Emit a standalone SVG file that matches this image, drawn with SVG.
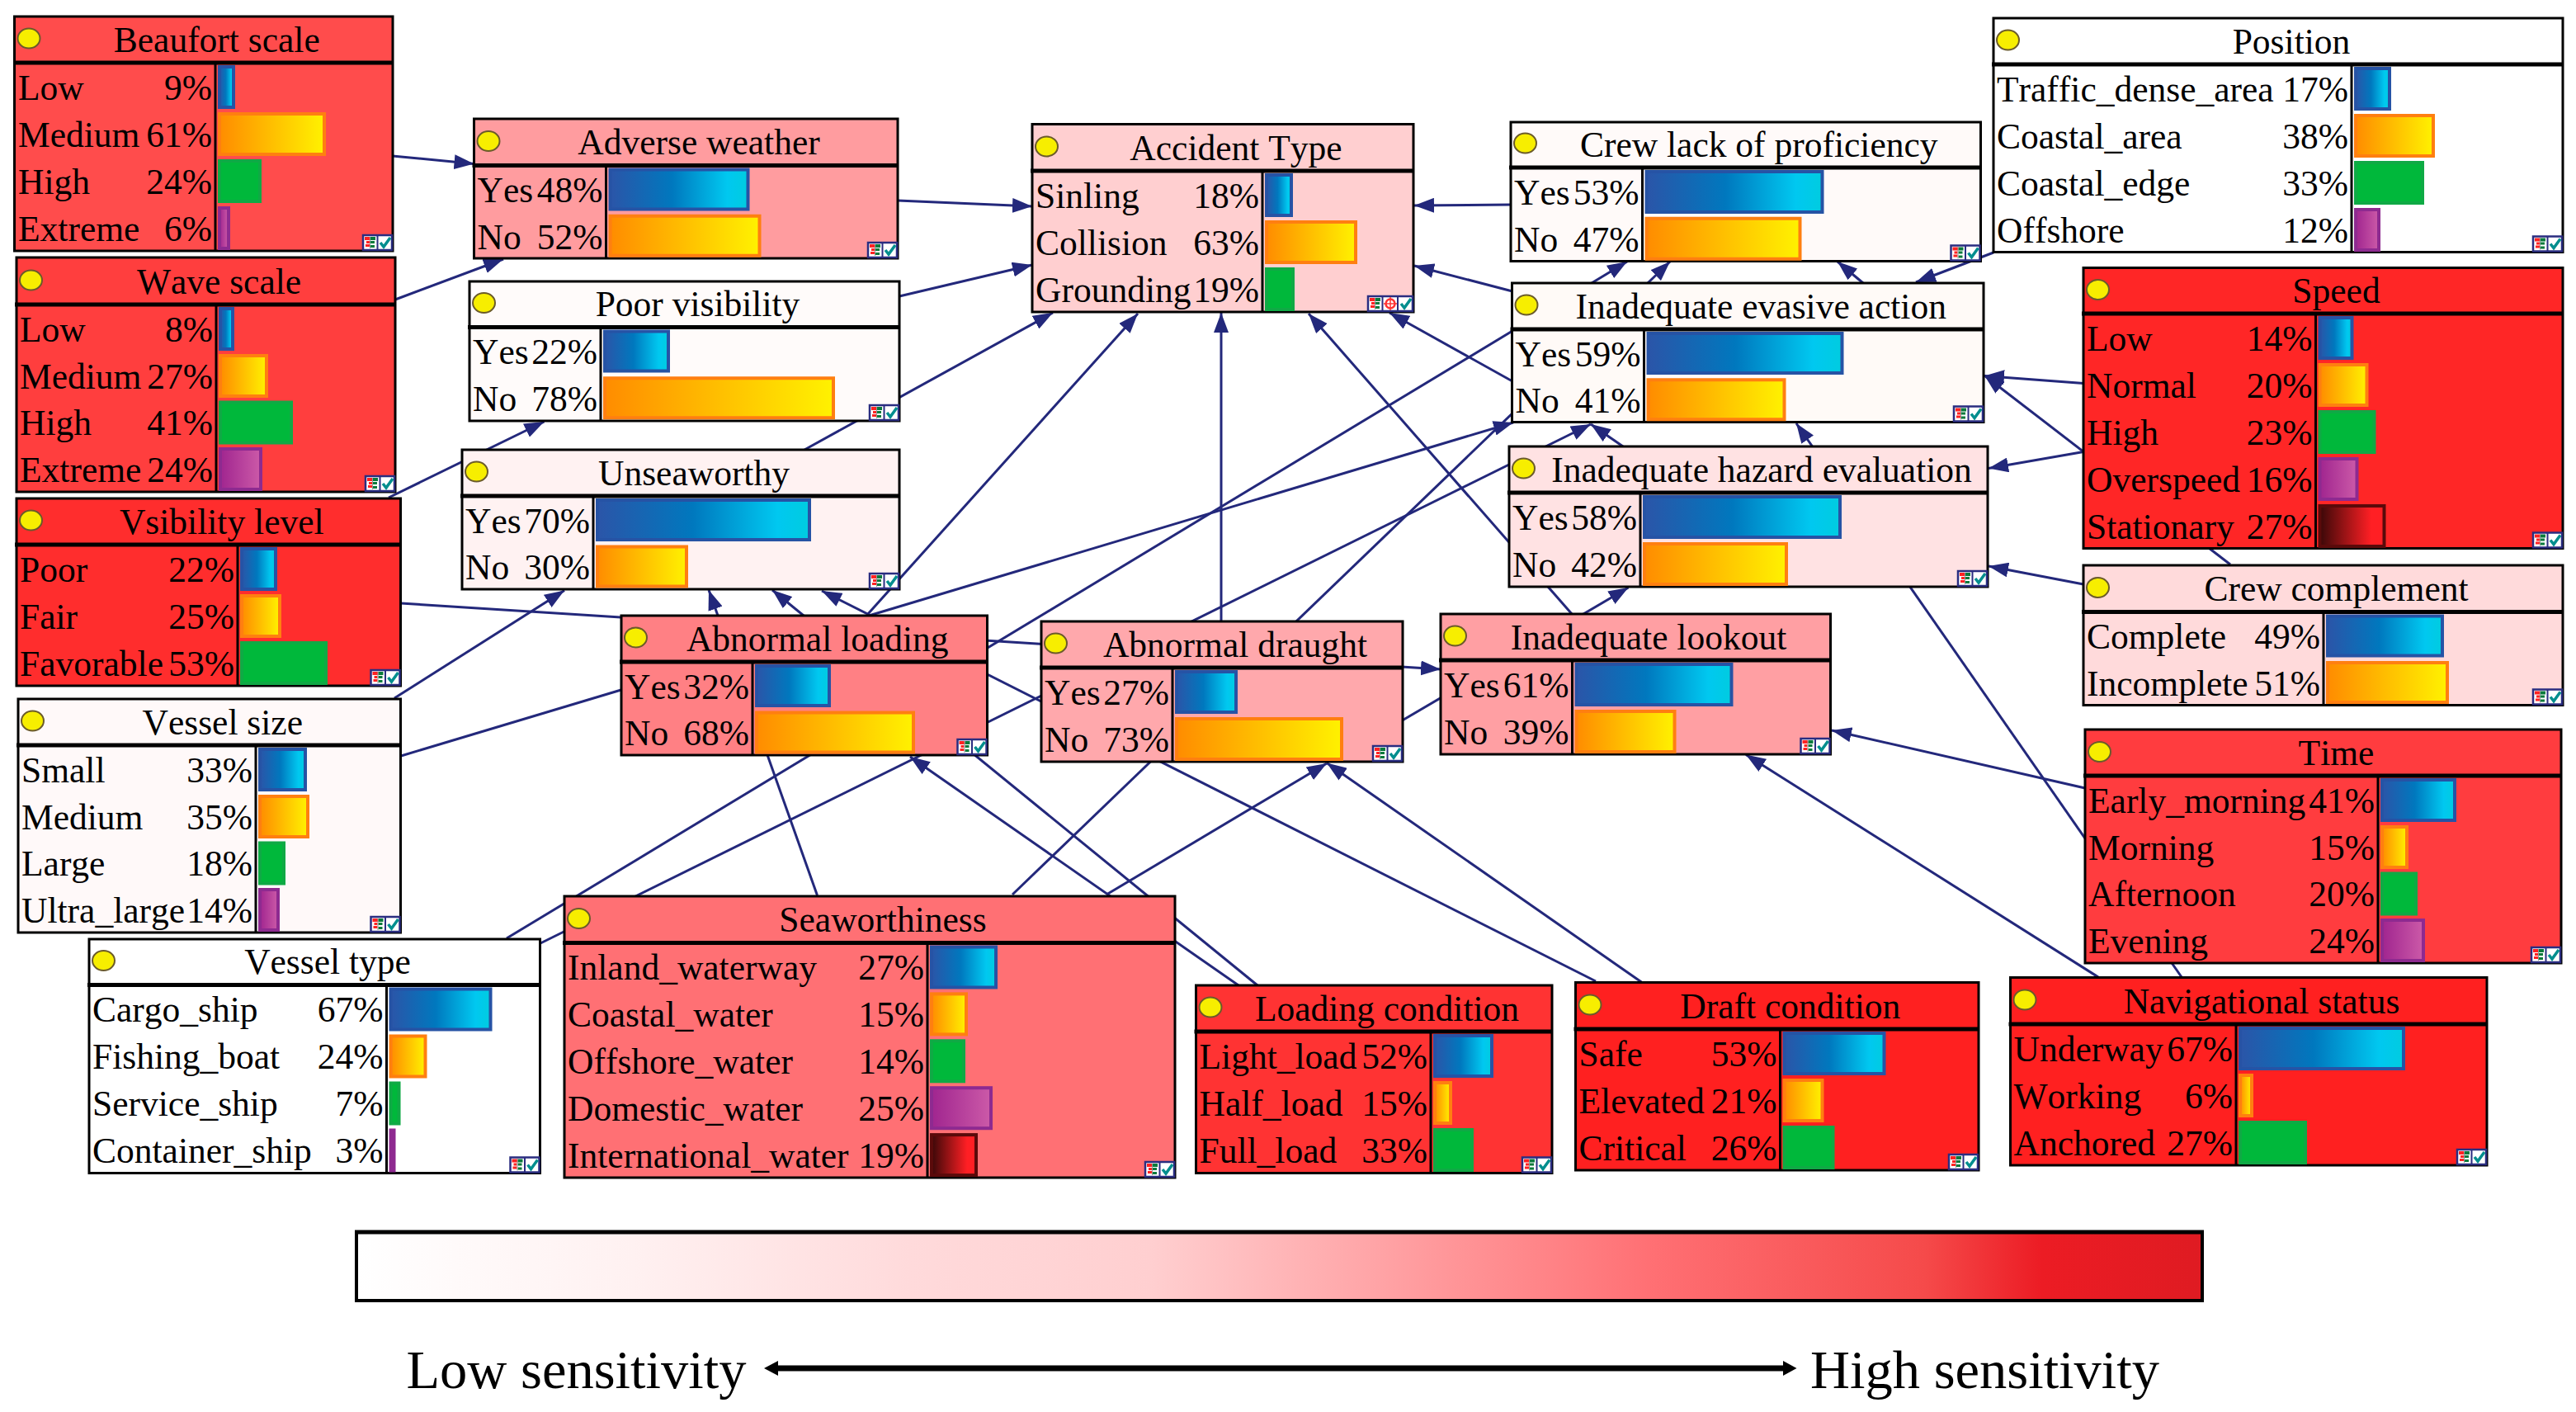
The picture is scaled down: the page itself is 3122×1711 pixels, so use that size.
<svg xmlns="http://www.w3.org/2000/svg" width="3122" height="1711" viewBox="0 0 3122 1711">
<style>
text{font-family:"Liberation Serif","Times New Roman",serif;font-size:43.5px;fill:#000;font-kerning:none;transform:translateY(1.5px)}
.t{text-anchor:middle;transform:translate(-2px,1.5px)}
.p{text-anchor:end}
.big{font-size:66.5px;transform:none}
.n{stroke:#000;stroke-width:3}
.d{fill:none;stroke:#000;stroke-width:3}
.h{fill:none;stroke:#000;stroke-width:5}
.c line{stroke:#23287B;stroke-width:3;marker-end:url(#ah)}
.b1{fill:url(#g1);stroke:#2653A5;stroke-width:4}
.b2{fill:url(#g2);stroke:#FF7F10;stroke-width:4}
.b3{fill:#00B83B;stroke:#0FAA45;stroke-width:4}
.b4{fill:url(#g4);stroke:#8E2A90;stroke-width:4}
.b5{fill:url(#g5);stroke:#5A0A0A;stroke-width:4}
</style>
<defs>
<linearGradient id="g1"><stop offset="0" stop-color="#2B55A8"/><stop offset=".45" stop-color="#0078BE"/><stop offset=".85" stop-color="#00C8F0"/><stop offset="1" stop-color="#00CCE0"/></linearGradient>
<linearGradient id="g2"><stop offset="0" stop-color="#FF8C00"/><stop offset="1" stop-color="#FFF200"/></linearGradient>
<linearGradient id="g4"><stop offset="0" stop-color="#A0258F"/><stop offset="1" stop-color="#CC5AA8"/></linearGradient>
<linearGradient id="g5"><stop offset="0" stop-color="#3A0808"/><stop offset=".8" stop-color="#FF1F24"/></linearGradient>
<linearGradient id="scale"><stop offset="0" stop-color="#FFFFFF"/><stop offset=".15" stop-color="#FFF1F1"/><stop offset=".3" stop-color="#FFDADB"/><stop offset=".43" stop-color="#FFCFD0"/><stop offset=".7" stop-color="#FF7074"/><stop offset=".85" stop-color="#F54A4A"/><stop offset=".913" stop-color="#EC1C24"/><stop offset="1" stop-color="#DF1B22"/></linearGradient>
<marker id="ah" markerUnits="userSpaceOnUse" markerWidth="24" markerHeight="18" refX="24" refY="9" orient="auto"><path d="M0 0L24 9L0 18z" fill="#23287B"/></marker>
<ellipse id="dot" rx="13.5" ry="12" fill="#F7EE00" stroke="#6B5B2A" stroke-width="2"/>
<g id="tbl"><path d="M3 3h7v4H3z" fill="#F22"/><path d="M10 3h6v4h-6z" fill="#0A7A3C"/><path d="M5 8h4v3H5z" fill="#F22"/><path d="M10 8h5v3h-5z" fill="#0A7A3C"/><path d="M4 12h5v3H4z" fill="#F22"/><path d="M10 13h5v3h-5z" fill="#0A7A3C"/><path d="M9.5 3v14" stroke="#999" stroke-width="1"/></g>
<path id="chk" d="M3 10l4 5 8-11" fill="none" stroke="#008E8E" stroke-width="3.5"/>
<g id="ic2"><rect x="1" y="1" width="35" height="18" fill="#fff" stroke="#2A2D80" stroke-width="2.5"/><path d="M18.5 1v18" stroke="#2A2D80" stroke-width="2"/><use href="#tbl" x="0" y="0"/><use href="#chk" x="19" y="0"/></g>
<g id="ic3"><rect x="1" y="1" width="54" height="18" fill="#fff" stroke="#2A2D80" stroke-width="2.5"/><path d="M18.5 1v18M37 1v18" stroke="#2A2D80" stroke-width="2"/><use href="#tbl" x="0" y="0"/><circle cx="28" cy="10" r="5.5" fill="none" stroke="#F33" stroke-width="2.5"/><path d="M28 2v16M20 10h16" stroke="#F33" stroke-width="1.5"/><use href="#chk" x="38" y="0"/></g>
</defs>
<rect width="3122" height="1711" fill="#fff"/>
<g id="connectors" class="c">
<line x1="475.6" y1="189" x2="574.5" y2="198.5"/>
<line x1="479" y1="363" x2="610" y2="314"/>
<line x1="471" y1="603" x2="659.5" y2="511"/>
<line x1="1088" y1="243" x2="1251" y2="250"/>
<line x1="1090" y1="359" x2="1251" y2="321"/>
<line x1="975" y1="545" x2="1276" y2="379"/>
<line x1="1051" y1="745" x2="1379" y2="380"/>
<line x1="1480" y1="752" x2="1480" y2="379"/>
<line x1="1905" y1="744" x2="1586" y2="380"/>
<line x1="1833" y1="462" x2="1684" y2="379"/>
<line x1="1831" y1="248" x2="1714" y2="249"/>
<line x1="1833" y1="353" x2="1714" y2="322"/>
<line x1="614" y1="1137" x2="1972" y2="317"/>
<line x1="1227" y1="1084" x2="2024" y2="317"/>
<line x1="2258" y1="343" x2="2227" y2="317"/>
<line x1="2416" y1="306" x2="2322" y2="342"/>
<line x1="486" y1="916" x2="1834" y2="512"/>
<line x1="655" y1="1143" x2="1928" y2="514"/>
<line x1="1967" y1="541" x2="1928" y2="514"/>
<line x1="2644" y1="1184" x2="2177" y2="513"/>
<line x1="2525" y1="464.6" x2="2405" y2="455.5"/>
<line x1="2703" y1="684" x2="2405" y2="455"/>
<line x1="2525" y1="547.6" x2="2410" y2="567.5"/>
<line x1="2525" y1="708" x2="2410" y2="686"/>
<line x1="2527" y1="955" x2="2220" y2="885"/>
<line x1="2543" y1="1184" x2="2116" y2="914.5"/>
<line x1="1650" y1="902" x2="1973.5" y2="712"/>
<line x1="486" y1="731" x2="1746" y2="811"/>
<line x1="1934" y1="1189" x2="996" y2="716"/>
<line x1="1524" y1="1194" x2="936" y2="715"/>
<line x1="1501" y1="1194" x2="1103" y2="917"/>
<line x1="990.5" y1="1085" x2="859" y2="715"/>
<line x1="478" y1="846" x2="684" y2="715.5"/>
<line x1="1341" y1="1084" x2="1608" y2="925"/>
<line x1="1990" y1="1190.5" x2="1608" y2="924.5"/>
</g>
<g id="beaufort"><rect class="n" x="17.5" y="20" width="458.5" height="284" fill="#FF4C4C"/><path class="h" d="M16 76H476"/><path class="d" d="M261 76V304"/><use href="#dot" x="35" y="46.5"/><text class="t" x="264.75" y="61">Beaufort scale</text>
<text x="22" y="119">Low</text><text class="p" x="257" y="119">9%</text><text x="22" y="176">Medium</text><text class="p" x="257" y="176">61%</text><text x="22" y="233">High</text><text class="p" x="257" y="233">24%</text><text x="22" y="290">Extreme</text><text class="p" x="257" y="290">6%</text>
<rect class="b1" x="266" y="81" width="17" height="49"/><rect class="b2" x="266" y="138" width="127" height="49"/><rect class="b3" x="266" y="195" width="49" height="49"/><rect class="b4" x="266" y="252" width="11" height="49"/><use href="#ic2" x="439" y="284"/></g>
<g id="wave"><rect class="n" x="20" y="312" width="459" height="284" fill="#FF3E3E"/><path class="h" d="M18 369H479"/><path class="d" d="M262 369V596"/><use href="#dot" x="37.5" y="339.5"/><text class="t" x="267.5" y="354">Wave scale</text>
<text x="24" y="412">Low</text><text class="p" x="258" y="412">8%</text><text x="24" y="469">Medium</text><text class="p" x="258" y="469">27%</text><text x="24" y="525.5">High</text><text class="p" x="258" y="525.5">41%</text><text x="24" y="582">Extreme</text><text class="p" x="258" y="582">24%</text>
<rect class="b1" x="267" y="374" width="15" height="49"/><rect class="b2" x="267" y="431" width="56" height="49"/><rect class="b3" x="267" y="487.5" width="86" height="49"/><rect class="b4" x="267" y="544" width="49" height="49"/><use href="#ic2" x="442" y="576"/></g>
<g id="visibility-level"><rect class="n" x="20" y="604" width="465.5" height="227" fill="#FF2D2D"/><path class="h" d="M18 660H485.5"/><path class="d" d="M288 660V831"/><use href="#dot" x="37.5" y="630.5"/><text class="t" x="270.75" y="645">Vsibility level</text>
<text x="24" y="703">Poor</text><text class="p" x="284" y="703">22%</text><text x="24" y="760">Fair</text><text class="p" x="284" y="760">25%</text><text x="24" y="817">Favorable</text><text class="p" x="284" y="817">53%</text>
<rect class="b1" x="293" y="665" width="41" height="49"/><rect class="b2" x="293" y="722" width="46" height="49"/><rect class="b3" x="293" y="779" width="102" height="49"/><use href="#ic2" x="448.5" y="811"/></g>
<g id="vessel-size"><rect class="n" x="22" y="847" width="463.5" height="283" fill="#FFF9F9"/><path class="h" d="M20 903H485.5"/><path class="d" d="M310 903V1130"/><use href="#dot" x="39.5" y="873.5"/><text class="t" x="271.75" y="888">Vessel size</text>
<text x="26" y="946">Small</text><text class="p" x="306" y="946">33%</text><text x="26" y="1003">Medium</text><text class="p" x="306" y="1003">35%</text><text x="26" y="1059.5">Large</text><text class="p" x="306" y="1059.5">18%</text><text x="26" y="1116">Ultra_large</text><text class="p" x="306" y="1116">14%</text>
<rect class="b1" x="315" y="908" width="55" height="49"/><rect class="b2" x="315" y="965" width="58" height="49"/><rect class="b3" x="315" y="1021.5" width="29" height="49"/><rect class="b4" x="315" y="1078" width="22" height="49"/><use href="#ic2" x="448.5" y="1110"/></g>
<g id="vessel-type"><rect class="n" x="108" y="1138" width="546.5" height="283.5" fill="#FFFFFF"/><path class="h" d="M106 1193.5H654.5"/><path class="d" d="M468.5 1193.5V1421.5"/><use href="#dot" x="125.5" y="1164"/><text class="t" x="399" y="1178.5">Vessel type</text>
<text x="112" y="1236.5">Cargo_ship</text><text class="p" x="464.5" y="1236.5">67%</text><text x="112" y="1293.5">Fishing_boat</text><text class="p" x="464.5" y="1293.5">24%</text><text x="112" y="1350.5">Service_ship</text><text class="p" x="464.5" y="1350.5">7%</text><text x="112" y="1407.5">Container_ship</text><text class="p" x="464.5" y="1407.5">3%</text>
<rect class="b1" x="473.5" y="1198.5" width="121" height="49"/><rect class="b2" x="473.5" y="1255.5" width="42" height="49"/><rect class="b3" x="473.5" y="1312.5" width="10" height="49"/><rect class="b4" x="473.5" y="1369.5" width="4" height="49"/><use href="#ic2" x="617.5" y="1401.5"/></g>
<g id="seaworthiness"><rect class="n" x="684" y="1086" width="740" height="341" fill="#FF7074"/><path class="h" d="M682 1142.5H1424"/><path class="d" d="M1124 1142.5V1427"/><use href="#dot" x="701.5" y="1113"/><text class="t" x="1072" y="1127.5">Seaworthiness</text>
<text x="688" y="1185.5">Inland_waterway</text><text class="p" x="1120" y="1185.5">27%</text><text x="688" y="1242.4">Coastal_water</text><text class="p" x="1120" y="1242.4">15%</text><text x="688" y="1299.3">Offshore_water</text><text class="p" x="1120" y="1299.3">14%</text><text x="688" y="1356.2">Domestic_water</text><text class="p" x="1120" y="1356.2">25%</text><text x="688" y="1413.1">International_water</text><text class="p" x="1120" y="1413.1">19%</text>
<rect class="b1" x="1129" y="1147.5" width="78" height="49"/><rect class="b2" x="1129" y="1204.4" width="42" height="49"/><rect class="b3" x="1129" y="1261.3" width="39" height="49"/><rect class="b4" x="1129" y="1318.2" width="72" height="49"/><rect class="b5" x="1129" y="1375.1" width="54" height="49"/><use href="#ic2" x="1387" y="1407"/></g>
<g id="loading-condition"><rect class="n" x="1449.5" y="1194" width="431.5" height="227.5" fill="#FF3333"/><path class="h" d="M1447.5 1250H1881"/><path class="d" d="M1734 1250V1421.5"/><use href="#dot" x="1467" y="1220.5"/><text class="t" x="1683" y="1235">Loading condition</text>
<text x="1453.5" y="1293">Light_load</text><text class="p" x="1730" y="1293">52%</text><text x="1453.5" y="1350">Half_load</text><text class="p" x="1730" y="1350">15%</text><text x="1453.5" y="1407">Full_load</text><text class="p" x="1730" y="1407">33%</text>
<rect class="b1" x="1739" y="1255" width="69" height="49"/><rect class="b2" x="1739" y="1312" width="19" height="49"/><rect class="b3" x="1739" y="1369" width="45" height="49"/><use href="#ic2" x="1844" y="1401.5"/></g>
<g id="draft-condition"><rect class="n" x="1909.5" y="1190.5" width="488.5" height="227.5" fill="#FF2020"/><path class="h" d="M1907.5 1247H2398"/><path class="d" d="M2157.5 1247V1418"/><use href="#dot" x="1927" y="1217.5"/><text class="t" x="2171.75" y="1232">Draft condition</text>
<text x="1913.5" y="1290">Safe</text><text class="p" x="2153.5" y="1290">53%</text><text x="1913.5" y="1347">Elevated</text><text class="p" x="2153.5" y="1347">21%</text><text x="1913.5" y="1404">Critical</text><text class="p" x="2153.5" y="1404">26%</text>
<rect class="b1" x="2162.5" y="1252" width="121" height="49"/><rect class="b2" x="2162.5" y="1309" width="46" height="49"/><rect class="b3" x="2162.5" y="1366" width="59" height="49"/><use href="#ic2" x="2361" y="1398"/></g>
<g id="navigational-status"><rect class="n" x="2436.5" y="1184.5" width="577.5" height="227.5" fill="#FF2020"/><path class="h" d="M2434.5 1241H3014"/><path class="d" d="M2710 1241V1412"/><use href="#dot" x="2454" y="1211.5"/><text class="t" x="2743" y="1226">Navigational status</text>
<text x="2440.5" y="1284">Underway</text><text class="p" x="2706" y="1284">67%</text><text x="2440.5" y="1341">Working</text><text class="p" x="2706" y="1341">6%</text><text x="2440.5" y="1398">Anchored</text><text class="p" x="2706" y="1398">27%</text>
<rect class="b1" x="2715" y="1246" width="198" height="49"/><rect class="b2" x="2715" y="1303" width="14" height="49"/><rect class="b3" x="2715" y="1360" width="79" height="49"/><use href="#ic2" x="2977" y="1392"/></g>
<g id="accident-type"><rect class="n" x="1251" y="150.5" width="462" height="227.5" fill="#FFCFD0"/><path class="h" d="M1249 207H1713"/><path class="d" d="M1530 207V378"/><use href="#dot" x="1268.5" y="177.5"/><text class="t" x="1500" y="192">Accident Type</text>
<text x="1255" y="250">Sinling</text><text class="p" x="1526" y="250">18%</text><text x="1255" y="307">Collision</text><text class="p" x="1526" y="307">63%</text><text x="1255" y="364">Grounding</text><text class="p" x="1526" y="364">19%</text>
<rect class="b1" x="1535" y="212" width="30" height="49"/><rect class="b2" x="1535" y="269" width="108" height="49"/><rect class="b3" x="1535" y="326" width="32" height="49"/><use href="#ic3" x="1657" y="358"/></g>
<g id="crew-lack"><rect class="n" x="1831" y="148" width="569.5" height="168.5" fill="#FFFAF9"/><path class="h" d="M1829 203H2400.5"/><path class="d" d="M1990.5 203V316.5"/><use href="#dot" x="1848.5" y="173.5"/><text class="t" x="2133.75" y="188">Crew lack of proficiency</text>
<text x="1835" y="246">Yes</text><text class="p" x="1986.5" y="246">53%</text><text x="1835" y="303">No</text><text class="p" x="1986.5" y="303">47%</text>
<rect class="b1" x="1995.5" y="208" width="213" height="49"/><rect class="b2" x="1995.5" y="264.75" width="186" height="49"/><use href="#ic2" x="2363.5" y="296.5"/></g>
<g id="evasive-action"><rect class="n" x="1832.5" y="343" width="571.5" height="168.5" fill="#FFFAF7"/><path class="h" d="M1830.5 399H2404"/><path class="d" d="M1992.5 399V511.5"/><use href="#dot" x="1850" y="369.5"/><text class="t" x="2136.25" y="384">Inadequate evasive action</text>
<text x="1836.5" y="442">Yes</text><text class="p" x="1988.5" y="442">59%</text><text x="1836.5" y="498.5">No</text><text class="p" x="1988.5" y="498.5">41%</text>
<rect class="b1" x="1997.5" y="404" width="235" height="48"/><rect class="b2" x="1997.5" y="460.25" width="165" height="48"/><use href="#ic2" x="2367" y="491.5"/></g>
<g id="hazard-evaluation"><rect class="n" x="1829" y="541" width="580" height="170" fill="#FFE2E3"/><path class="h" d="M1827 597H2409"/><path class="d" d="M1988 597V711"/><use href="#dot" x="1846.5" y="567.5"/><text class="t" x="2137" y="582">Inadequate hazard evaluation</text>
<text x="1833" y="640">Yes</text><text class="p" x="1984" y="640">58%</text><text x="1833" y="697">No</text><text class="p" x="1984" y="697">42%</text>
<rect class="b1" x="1993" y="602" width="237" height="49"/><rect class="b2" x="1993" y="659" width="172" height="49"/><use href="#ic2" x="2372" y="691"/></g>
<g id="position"><rect class="n" x="2416" y="22" width="690" height="283.5" fill="#FFFFFF"/><path class="h" d="M2414 78H3106"/><path class="d" d="M2850 78V305.5"/><use href="#dot" x="2433.5" y="48.5"/><text class="t" x="2779" y="63">Position</text>
<text x="2420" y="121">Traffic_dense_area</text><text class="p" x="2846" y="121">17%</text><text x="2420" y="178">Coastal_area</text><text class="p" x="2846" y="178">38%</text><text x="2420" y="235">Coastal_edge</text><text class="p" x="2846" y="235">33%</text><text x="2420" y="292">Offshore</text><text class="p" x="2846" y="292">12%</text>
<rect class="b1" x="2855" y="83" width="41" height="49"/><rect class="b2" x="2855" y="140" width="94" height="49"/><rect class="b3" x="2855" y="197" width="81" height="49"/><rect class="b4" x="2855" y="254" width="28" height="49"/><use href="#ic2" x="3069" y="285.5"/></g>
<g id="speed"><rect class="n" x="2525" y="324.5" width="581" height="340" fill="#FF2626"/><path class="h" d="M2523 380H3106"/><path class="d" d="M2806.5 380V664.5"/><use href="#dot" x="2542.5" y="351"/><text class="t" x="2833.5" y="365">Speed</text>
<text x="2529" y="423">Low</text><text class="p" x="2802.5" y="423">14%</text><text x="2529" y="480">Normal</text><text class="p" x="2802.5" y="480">20%</text><text x="2529" y="537">High</text><text class="p" x="2802.5" y="537">23%</text><text x="2529" y="594">Overspeed</text><text class="p" x="2802.5" y="594">16%</text><text x="2529" y="651">Stationary</text><text class="p" x="2802.5" y="651">27%</text>
<rect class="b1" x="2811.5" y="385" width="39" height="49"/><rect class="b2" x="2811.5" y="442" width="57" height="49"/><rect class="b3" x="2811.5" y="499" width="66" height="49"/><rect class="b4" x="2811.5" y="556" width="45" height="49"/><rect class="b5" x="2811.5" y="613" width="78" height="49"/><use href="#ic2" x="3069" y="644.5"/></g>
<g id="crew-complement"><rect class="n" x="2525" y="685" width="581" height="169.5" fill="#FFDADB"/><path class="h" d="M2523 741.5H3106"/><path class="d" d="M2816 741.5V854.5"/><use href="#dot" x="2542.5" y="712"/><text class="t" x="2833.5" y="726.5">Crew complement</text>
<text x="2529" y="784.5">Complete</text><text class="p" x="2812" y="784.5">49%</text><text x="2529" y="841">Incomplete</text><text class="p" x="2812" y="841">51%</text>
<rect class="b1" x="2821" y="746.5" width="139" height="48"/><rect class="b2" x="2821" y="803" width="145" height="48"/><use href="#ic2" x="3069" y="834.5"/></g>
<g id="time"><rect class="n" x="2527" y="884" width="577" height="283" fill="#FF3C3F"/><path class="h" d="M2525 940H3104"/><path class="d" d="M2882 940V1167"/><use href="#dot" x="2544.5" y="911"/><text class="t" x="2833.5" y="925">Time</text>
<text x="2531" y="983">Early_morning</text><text class="p" x="2878" y="983">41%</text><text x="2531" y="1040">Morning</text><text class="p" x="2878" y="1040">15%</text><text x="2531" y="1096.5">Afternoon</text><text class="p" x="2878" y="1096.5">20%</text><text x="2531" y="1153">Evening</text><text class="p" x="2878" y="1153">24%</text>
<rect class="b1" x="2887" y="945" width="88" height="49"/><rect class="b2" x="2887" y="1002" width="30" height="49"/><rect class="b3" x="2887" y="1058.5" width="41" height="49"/><rect class="b4" x="2887" y="1115" width="50" height="49"/><use href="#ic2" x="3067" y="1147"/></g>
<g id="abnormal-loading"><rect class="n" x="753" y="746" width="443.5" height="169" fill="#FF8084"/><path class="h" d="M751 802H1196.5"/><path class="d" d="M912 802V915"/><use href="#dot" x="770.5" y="772.5"/><text class="t" x="992.75" y="787">Abnormal loading</text>
<text x="757" y="845">Yes</text><text class="p" x="908" y="845">32%</text><text x="757" y="901.5">No</text><text class="p" x="908" y="901.5">68%</text>
<rect class="b1" x="917" y="807" width="88" height="48"/><rect class="b2" x="917" y="863.5" width="190" height="48"/><use href="#ic2" x="1159.5" y="895"/></g>
<g id="abnormal-draught"><rect class="n" x="1262" y="753" width="438" height="170" fill="#FFA8AC"/><path class="h" d="M1260 809H1700"/><path class="d" d="M1421 809V923"/><use href="#dot" x="1279.5" y="779.5"/><text class="t" x="1499" y="794">Abnormal draught</text>
<text x="1266" y="852">Yes</text><text class="p" x="1417" y="852">27%</text><text x="1266" y="909">No</text><text class="p" x="1417" y="909">73%</text>
<rect class="b1" x="1426" y="814" width="72" height="49"/><rect class="b2" x="1426" y="871" width="200" height="49"/><use href="#ic2" x="1663" y="903"/></g>
<g id="inadequate-lookout"><rect class="n" x="1746" y="744" width="472.5" height="170" fill="#FF9FA3"/><path class="h" d="M1744 800H2218.5"/><path class="d" d="M1905.5 800V914"/><use href="#dot" x="1763.5" y="770.5"/><text class="t" x="2000" y="785">Inadequate lookout</text>
<text x="1750" y="843">Yes</text><text class="p" x="1901.5" y="843">61%</text><text x="1750" y="900">No</text><text class="p" x="1901.5" y="900">39%</text>
<rect class="b1" x="1910.5" y="805" width="188" height="49"/><rect class="b2" x="1910.5" y="862" width="119" height="49"/><use href="#ic2" x="2181.5" y="894"/></g>
<g id="adverse-weather"><rect class="n" x="574.5" y="144" width="513.5" height="169" fill="#FF9C9F"/><path class="h" d="M572.5 200.5H1088"/><path class="d" d="M734.5 200.5V313"/><use href="#dot" x="592" y="171"/><text class="t" x="849" y="185.5">Adverse weather</text>
<text x="578.5" y="243.5">Yes</text><text class="p" x="730.5" y="243.5">48%</text><text x="578.5" y="300">No</text><text class="p" x="730.5" y="300">52%</text>
<rect class="b1" x="739.5" y="205.5" width="167" height="48"/><rect class="b2" x="739.5" y="261.75" width="181" height="48"/><use href="#ic2" x="1051" y="293"/></g>
<g id="poor-visibility"><rect class="n" x="569" y="341" width="521" height="169" fill="#FFFBFA"/><path class="h" d="M567 396.5H1090"/><path class="d" d="M728 396.5V510"/><use href="#dot" x="586.5" y="367"/><text class="t" x="847.5" y="381.5">Poor visibility</text>
<text x="573" y="439.5">Yes</text><text class="p" x="724" y="439.5">22%</text><text x="573" y="496">No</text><text class="p" x="724" y="496">78%</text>
<rect class="b1" x="733" y="401.5" width="77" height="48"/><rect class="b2" x="733" y="458.25" width="277" height="48"/><use href="#ic2" x="1053" y="490"/></g>
<g id="unseaworthy"><rect class="n" x="560" y="545" width="530" height="169" fill="#FFF2F2"/><path class="h" d="M558 601H1090"/><path class="d" d="M719 601V714"/><use href="#dot" x="577.5" y="571.5"/><text class="t" x="843" y="586">Unseaworthy</text>
<text x="564" y="644">Yes</text><text class="p" x="715" y="644">70%</text><text x="564" y="700.5">No</text><text class="p" x="715" y="700.5">30%</text>
<rect class="b1" x="724" y="606" width="257" height="48"/><rect class="b2" x="724" y="662.5" width="108" height="48"/><use href="#ic2" x="1053" y="694"/></g>
<g id="legend">
<rect x="432" y="1493" width="2237" height="83" fill="url(#scale)" stroke="#000" stroke-width="4"/>
<path class="h" d="M430 1493H2671"/>
<text class="big" x="492.5" y="1681.5">Low sensitivity</text>
<text class="big" x="2194" y="1681.5">High sensitivity</text>
<line x1="942" y1="1658" x2="2162" y2="1658" stroke="#000" stroke-width="7"/>
<path d="M926 1658L943 1649V1667z" fill="#000"/><path d="M2177.5 1658L2161 1649V1667z" fill="#000"/>
</g>
</svg>
